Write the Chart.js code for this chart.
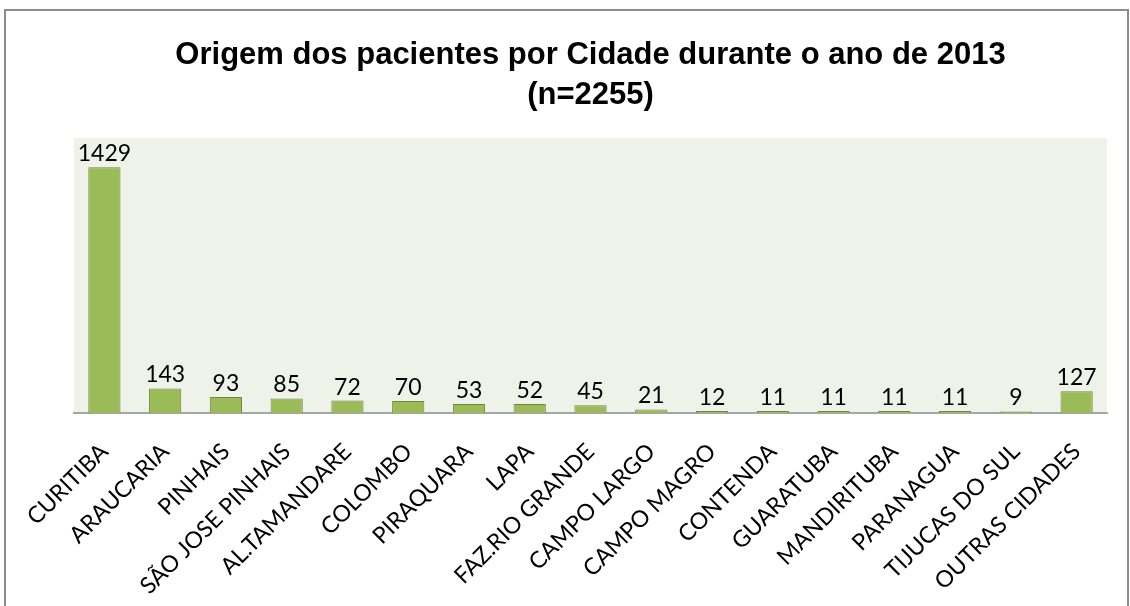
<!DOCTYPE html>
<html>
<head>
<meta charset="utf-8">
<script src="https://cdn.jsdelivr.net/npm/chart.js@4.4.1/dist/chart.umd.min.js"></script>
<style>
  html, body { margin: 0; padding: 0; background: #ffffff; }
  #moldura { position: absolute; left: 4px; top: 9px; width: 1121px; height: 620px; border: 2px solid #8c8c8c; }
  #caixa { position: absolute; left: 0; top: 0; width: 1130px; height: 606px; }
</style>
</head>
<body>
<div id="moldura"></div>
<div id="caixa"><canvas id="graficoCidades"></canvas></div>
<script>
// Dados
const cidades = ['CURITIBA', 'ARAUCARIA', 'PINHAIS', 'SÃO JOSE PINHAIS', 'AL.TAMANDARE', 'COLOMBO',
    'PIRAQUARA', 'LAPA', 'FAZ.RIO GRANDE', 'CAMPO LARGO', 'CAMPO MAGRO', 'CONTENDA',
    'GUARATUBA', 'MANDIRITUBA', 'PARANAGUA', 'TIJUCAS DO SUL', 'OUTRAS CIDADES'];
const pacientes = [1429, 143, 93, 85, 72, 70, 53, 52, 45, 21, 12, 11, 11, 11, 11, 9, 127];
const titulo = ['Origem dos pacientes por Cidade durante o ano de 2013', '(n=2255)'];

// Fundo da área do gráfico
const fundoArea = {
    id: 'fundoArea',
    beforeDraw(chart) {
        const { ctx, chartArea } = chart;
        ctx.save();
        ctx.fillStyle = '#eef2e8';
        ctx.fillRect(chartArea.left, chartArea.top, chartArea.right - chartArea.left, chartArea.bottom - chartArea.top);
        ctx.restore();
    }
};

// Rótulos com os valores acima das barras
const rotulosValores = {
    id: 'rotulosValores',
    afterDatasetsDraw(chart) {
        const { ctx } = chart;
        const meta = chart.getDatasetMeta(0);
        ctx.save();
        ctx.font = '23px Lato';
        ctx.fillStyle = '#000000';
        ctx.textAlign = 'center';
        ctx.textBaseline = 'bottom';
        meta.data.forEach((barra, i) => {
            ctx.fillText(String(pacientes[i]), barra.x, barra.y - 2);
        });
        ctx.restore();
    }
};

const ctx = document.getElementById('graficoCidades').getContext('2d');
new Chart(ctx, {
    type: 'bar',
    data: {
        labels: cidades,
        datasets: [{
            data: pacientes,
            backgroundColor: '#9bbb59',
            borderColor: '#71893f',
            borderWidth: 1,
            categoryPercentage: 1,
            barPercentage: 0.53
        }]
    },
    options: {
        responsive: true,
        maintainAspectRatio: false,
        animation: false,
        layout: {
            padding: { left: 74, right: 23, top: 0, bottom: 0 }
        },
        scales: {
            y: {
                display: false,
                min: 0,
                max: 1600
            },
            x: {
                grid: { display: false, drawTicks: false },
                border: { display: true, color: '#a6a6a6', width: 2 },
                ticks: {
                    color: '#000000',
                    font: { family: 'Lato', size: 23 },
                    minRotation: 45,
                    maxRotation: 45,
                    autoSkip: false,
                    padding: 25
                },
                afterFit(escala) {
                    escala.height = 193;
                }
            }
        },
        plugins: {
            legend: { display: false },
            tooltip: { enabled: false },
            title: {
                display: true,
                text: titulo,
                color: '#000000',
                font: { family: 'Liberation Sans', size: 31, weight: 'bold', lineHeight: 1.29 },
                padding: { top: 35, bottom: 23 }
            }
        }
    },
    plugins: [fundoArea, rotulosValores]
});
</script>
</body>
</html>
